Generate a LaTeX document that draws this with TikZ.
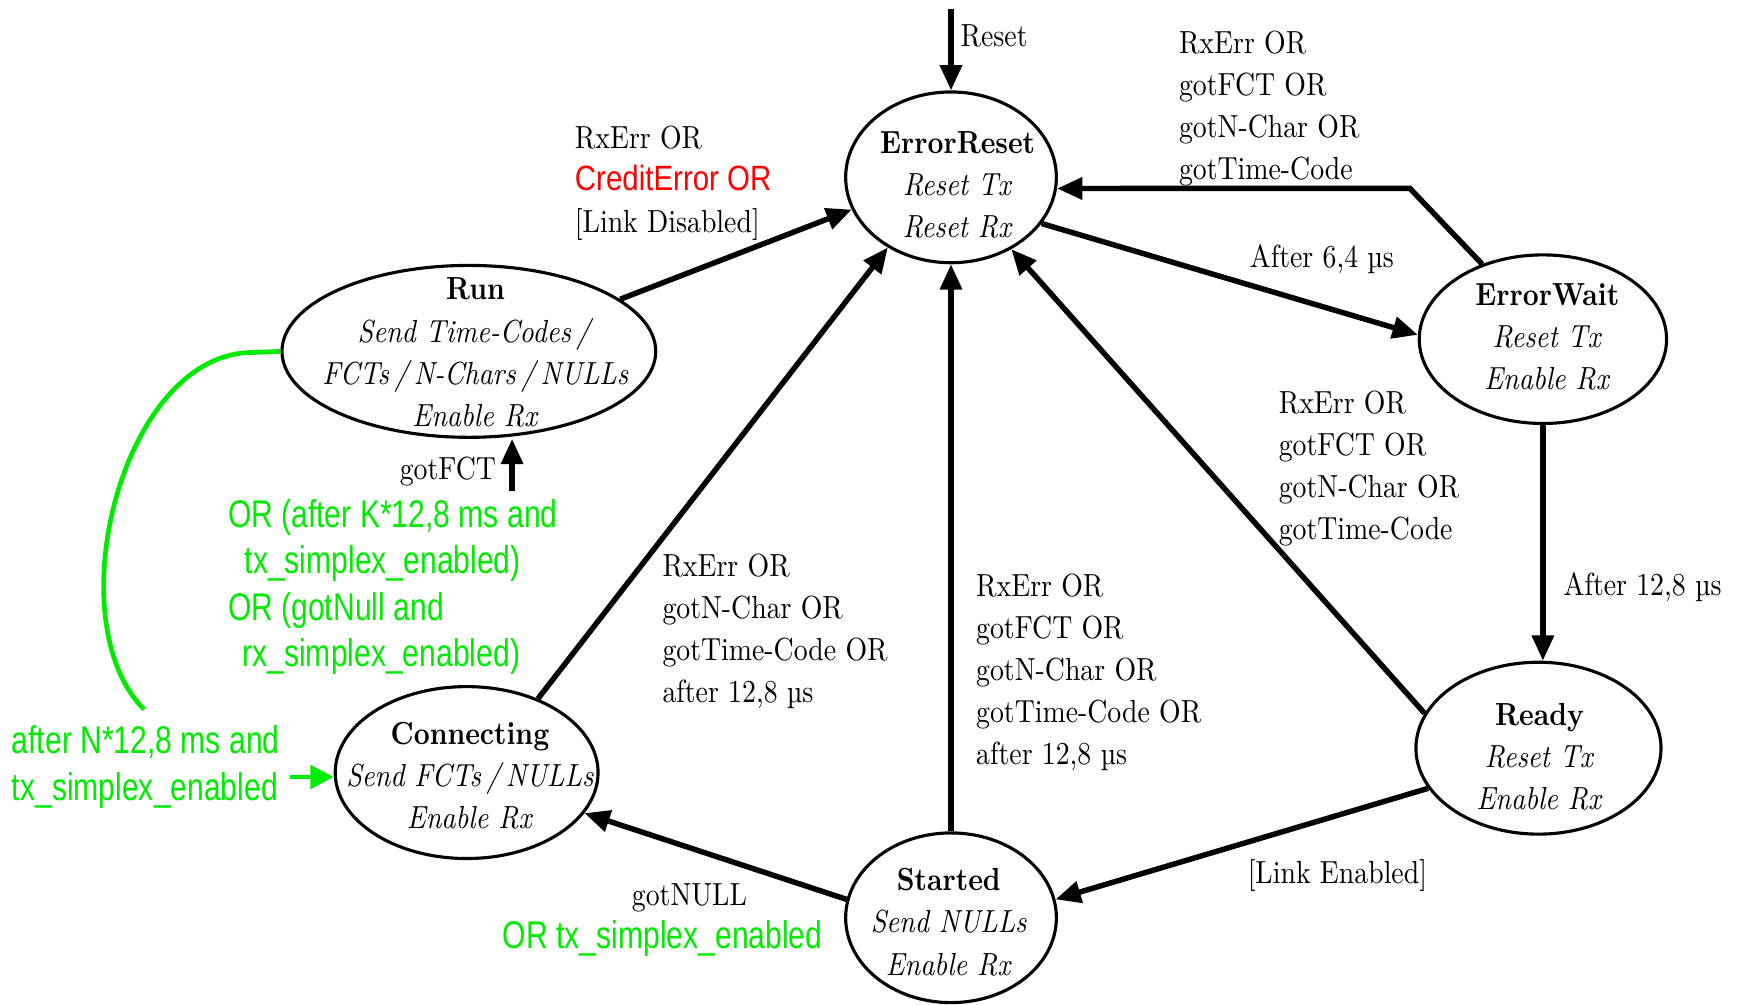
\documentclass[tikz,border=0pt]{standalone}
\usepackage{fontspec}
\setmainfont{lmroman10}[Extension=.otf,UprightFont=*-regular,BoldFont=*-bold,ItalicFont=*-italic,BoldItalicFont=*-bolditalic,FakeStretch=0.87]
\newfontfamily\gfont{Liberation Sans}[FakeStretch=0.78]
\newfontfamily\rfont{Liberation Sans}[FakeStretch=0.84]
\usetikzlibrary{arrows.meta,shapes.geometric}
\definecolor{lgreen}{RGB}{0,235,0}
\definecolor{lred}{RGB}{255,0,0}
\newcommand\lblfont{\fontsize{8.2}{10.8}\selectfont}
\newcommand\gfontsz{\gfont\fontsize{9.9}{11.9}\selectfont}
\begin{document}
\begin{tikzpicture}[x=0.01cm,y=-0.01cm,
  state/.style={draw, ellipse, line width=0.8pt, inner sep=0pt},
  stxt/.style={inner sep=0pt, align=center, font=\lblfont},
  tr/.style={line width=1.4pt, -{Triangle[length=6.5pt,width=5.5pt]}},
  lbl/.style={inner sep=0pt, align=left, font=\lblfont},
  glbl/.style={inner sep=0pt, align=left, text=lgreen, font=\gfontsz},
  gline/.style={lgreen, line width=1.2pt}]
\useasboundingbox (0,0) rectangle (1568,906);

% states
\node[state, minimum width=1.90cm, minimum height=1.54cm] (ER) at (858,160) {};
\node[stxt] (ERt) at (864,167) {\textbf{ErrorReset}\\\textit{Reset Tx}\\\textit{Reset Rx}};
\node[state, minimum width=3.37cm, minimum height=1.55cm] (Run) at (423,317) {};
\node[stxt] (Runt) at (429,318) {\textbf{Run}\\\textit{Send Time-Codes\,/}\\\textit{FCTs\,/\,N-Chars\,/\,NULLs}\\\textit{Enable Rx}};
\node[state, minimum width=2.23cm, minimum height=1.52cm] (EW) at (1392,306) {};
\node[stxt] (EWt) at (1396,304) {\textbf{ErrorWait}\\\textit{Reset Tx}\\\textit{Enable Rx}};
\node[state, minimum width=2.21cm, minimum height=1.55cm] (Ready) at (1388,675) {};
\node[stxt] (Readyt) at (1389,683) {\textbf{Ready}\\\textit{Reset Tx}\\\textit{Enable Rx}};
\node[state, minimum width=1.90cm, minimum height=1.53cm] (Started) at (858,828) {};
\node[stxt] (Startedt) at (856,832) {\textbf{Started}\\\textit{Send NULLs}\\\textit{Enable Rx}};
\node[state, minimum width=2.37cm, minimum height=1.55cm] (Conn) at (421,697) {};
\node[stxt] (Connt) at (424,700) {\textbf{Connecting}\\\textit{Send FCTs\,/\,NULLs}\\\textit{Enable Rx}};

% transitions
\coordinate (rst) at (858,8);
\draw[tr] (rst) -- (ER.north);
\draw[tr] (Run.19) -- (ER.198);
\coordinate (ewbend) at (1272,170);
\draw[tr] (EW.129) -- (ewbend) -- (ER.354);
\draw[tr] (ER.333) -- (EW.178);
\draw[tr] (EW.south) -- (EW.south |- Ready.north);
\draw[tr] (Ready.163) -- (ER.310);
\draw[tr] (Ready.200) -- (Started.10);
\draw[tr] (Started.north) -- (ER.south);
\draw[tr] (Started.170) -- (Conn.341);
\draw[tr] (Conn.46) -- (ER.228);
\coordinate (fct) at (462,443);
\draw[tr] (fct) -- (fct |- Run.south);

% green connectors
\coordinate (gend) at (130,640);
\draw[gline] (Run.west) -- (228,318) .. controls (110,318) and (50,560) .. (gend);
\coordinate (gstart) at (262,701);
\draw[gline, -{Triangle[length=6pt,width=6pt]}] (gstart) -- (Conn.west |- gstart);

% labels
\node[lbl, anchor=west] (lreset) at (866,32) {Reset};
\node[lbl, anchor=north west] (lrun) at (518,113) {RxErr OR\\{\rfont\fontsize{9}{10.8}\selectfont\color{lred}CreditError OR}\\{[Link Disabled]}};
\node[lbl, anchor=north west] (lewer) at (1063,27) {RxErr OR\\gotFCT OR\\gotN-Char OR\\gotTime-Code};
\node[lbl, anchor=west] (l64) at (1127,234) {After 6,4 µs};
\node[lbl, anchor=west] (l128) at (1410,530) {After 12,8 µs};
\node[lbl, anchor=north west] (lrder) at (1153,352) {RxErr OR\\gotFCT OR\\gotN-Char OR\\gotTime-Code};
\node[lbl, anchor=west] (llink) at (1125,790) {{[Link Enabled]}};
\node[lbl, anchor=north west] (lster) at (880,517) {RxErr OR\\gotFCT OR\\gotN-Char OR\\gotTime-Code OR\\after 12,8 µs};
\node[lbl, anchor=north west] (lcer) at (597,499) {RxErr OR\\gotN-Char OR\\gotTime-Code OR\\after 12,8 µs};
\node[lbl] (lnull) at (622,810) {gotNULL};
\node[glbl, anchor=west] (lnullg) at (453,847) {OR tx\_simplex\_enabled};
\node[lbl, anchor=west] (lfct) at (360,425) {gotFCT};
\node[glbl, anchor=north west] (lk) at (205,450) {OR (after K*12,8 ms and\\\hspace*{0.15cm}tx\_simplex\_enabled)\\OR (gotNull and\\\hspace*{0.13cm}rx\_simplex\_enabled)};
\node[glbl, anchor=north west] (ln) at (10,654) {after N*12,8 ms and\\tx\_simplex\_enabled};
\end{tikzpicture}
\end{document}
